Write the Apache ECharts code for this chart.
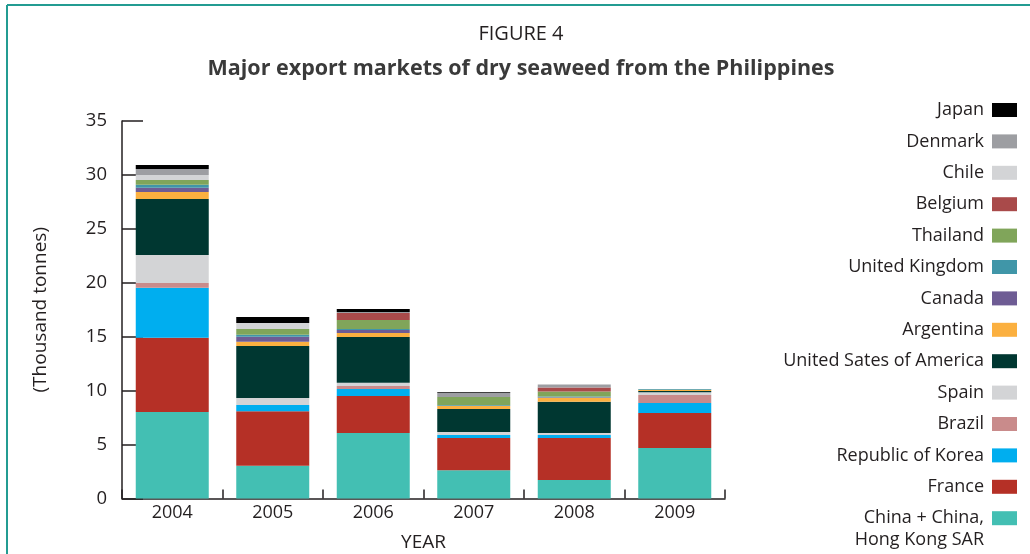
<!DOCTYPE html>
<html>
<head>
<meta charset="utf-8">
<script src="https://cdn.jsdelivr.net/npm/echarts@6/dist/echarts.min.js"></script>
<style>
  html, body { margin: 0; padding: 0; background: #fff; }
  #chart { width: 1030px; height: 554px; }
</style>
</head>
<body>
<div id="chart"></div>
<script>
// Dry seaweed exports from the Philippines by destination (thousand tonnes)
const years = ['2004', '2005', '2006', '2007', '2008', '2009'];

const china     = [8.01, 3.03, 6.07, 2.63, 1.71, 4.68];
const france    = [6.89, 5.07, 3.43, 2.97, 3.90, 3.25];
const korea     = [4.64, 0.56, 0.65, 0.28, 0.28, 0.93];
const brazil    = [0.44, 0.00, 0.28, 0.00, 0.00, 0.74];
const spain     = [2.60, 0.65, 0.31, 0.28, 0.19, 0.25];
const usa       = [5.19, 4.82, 4.24, 2.13, 2.88, 0.12];
const argentina = [0.65, 0.40, 0.37, 0.31, 0.37, 0.12];
const canada    = [0.40, 0.46, 0.28, 0.00, 0.06, 0.00];
const uk        = [0.28, 0.19, 0.09, 0.06, 0.06, 0.06];
const thailand  = [0.44, 0.53, 0.83, 0.74, 0.46, 0.00];
const belgium   = [0.00, 0.00, 0.65, 0.00, 0.37, 0.00];
const chile     = [0.46, 0.56, 0.00, 0.00, 0.00, 0.00];
const denmark   = [0.56, 0.00, 0.09, 0.37, 0.28, 0.00];
const japan     = [0.37, 0.56, 0.28, 0.09, 0.00, 0.00];

const yTicks = [0, 5, 10, 15, 20, 25, 30, 35];

const CHINA_NAME = 'China + China,';

// Stacked bottom to top
const layers = [
  { name: CHINA_NAME, data: china, color: '#43bfb3' },
  { name: 'France', data: france, color: '#b53026' },
  { name: 'Republic of Korea', data: korea, color: '#00aeef' },
  { name: 'Brazil', data: brazil, color: '#c98b8b' },
  { name: 'Spain', data: spain, color: '#d3d4d6' },
  { name: 'United Sates of America', data: usa, color: '#003731' },
  { name: 'Argentina', data: argentina, color: '#fbb040' },
  { name: 'Canada', data: canada, color: '#6e5c94' },
  { name: 'United Kingdom', data: uk, color: '#4096a8' },
  { name: 'Thailand', data: thailand, color: '#80a55a' },
  { name: 'Belgium', data: belgium, color: '#a94a4a' },
  { name: 'Chile', data: chile, color: '#d3d4d6' },
  { name: 'Denmark', data: denmark, color: '#9d9ea2' },
  { name: 'Japan', data: japan, color: '#000000' }
];

const FONT = '"Open Sans", "Noto Sans", sans-serif';
const TEXT = '#231f20';

const chart = echarts.init(document.getElementById('chart'), null, { renderer: 'canvas' });

chart.setOption({
  animation: false,
  backgroundColor: '#ffffff',
  textStyle: { fontFamily: FONT },
  graphic: [
    // frame lines
    { type: 'line', shape: { x1: 7, y1: 5, x2: 1030, y2: 5 }, style: { stroke: '#239c92', lineWidth: 2 }, silent: true },
    { type: 'line', shape: { x1: 7, y1: 5, x2: 7, y2: 554 }, style: { stroke: '#239c92', lineWidth: 2 }, silent: true },
    { type: 'text', x: 521, y: 34, style: { text: 'FIGURE 4', fontFamily: FONT, fontSize: 20, fill: TEXT, align: 'center', verticalAlign: 'middle' } },
    { type: 'text', x: 521, y: 69, style: { text: 'Major export markets of dry seaweed from the Philippines', fontFamily: FONT, fontSize: 21.5, fontWeight: 'bold', fill: '#3a3a3a', align: 'center', verticalAlign: 'middle' } },
    { type: 'text', x: 984, y: 540, style: { text: 'Hong Kong SAR', fontFamily: FONT, fontSize: 18, fill: TEXT, align: 'right', verticalAlign: 'middle' } }
  ],
  legend: {
    orient: 'vertical',
    right: 13,
    top: 101,
    padding: 0,
    align: 'right',
    icon: 'rect',
    itemWidth: 25,
    itemHeight: 14,
    itemGap: 13.4,
    selectedMode: false,
    textStyle: { fontFamily: FONT, fontSize: 18, color: TEXT, lineHeight: 18, padding: [0, 3, 0, 0] },
    data: layers.slice().reverse().map(l => l.name)
  },
  grid: { left: 122, right: 305, top: 121, bottom: 55.5, containLabel: false, outerBoundsMode: 'none' },
  xAxis: {
    type: 'category',
    data: years,
    name: 'YEAR',
    nameLocation: 'middle',
    nameGap: 35,
    nameTextStyle: { fontFamily: FONT, fontSize: 19, color: TEXT },
    axisLine: { lineStyle: { color: '#231f20', width: 1.5 } },
    axisTick: { show: true, inside: true, length: 9, lineStyle: { color: '#231f20', width: 1.5 } },
    axisLabel: { fontFamily: FONT, fontSize: 18, color: TEXT, margin: 5 }
  },
  yAxis: {
    type: 'value',
    min: yTicks[0],
    max: yTicks[yTicks.length - 1],
    interval: 5,
    name: '(Thousand tonnes)',
    nameLocation: 'middle',
    nameGap: 72,
    nameTextStyle: { fontFamily: FONT, fontSize: 19, color: TEXT },
    axisLine: { show: true, lineStyle: { color: '#231f20', width: 1.5 } },
    axisTick: { show: true, inside: true, length: 21, lineStyle: { color: '#231f20', width: 1.5 } },
    axisLabel: { fontFamily: FONT, fontSize: 18.5, color: TEXT, margin: 15 },
    splitLine: { show: false }
  },
  series: layers.map(l => ({
    type: 'bar',
    name: l.name,
    stack: 'total',
    data: l.data,
    barWidth: 73,
    itemStyle: { color: l.color },
    emphasis: { disabled: true }
  }))
});
</script>
</body>
</html>
